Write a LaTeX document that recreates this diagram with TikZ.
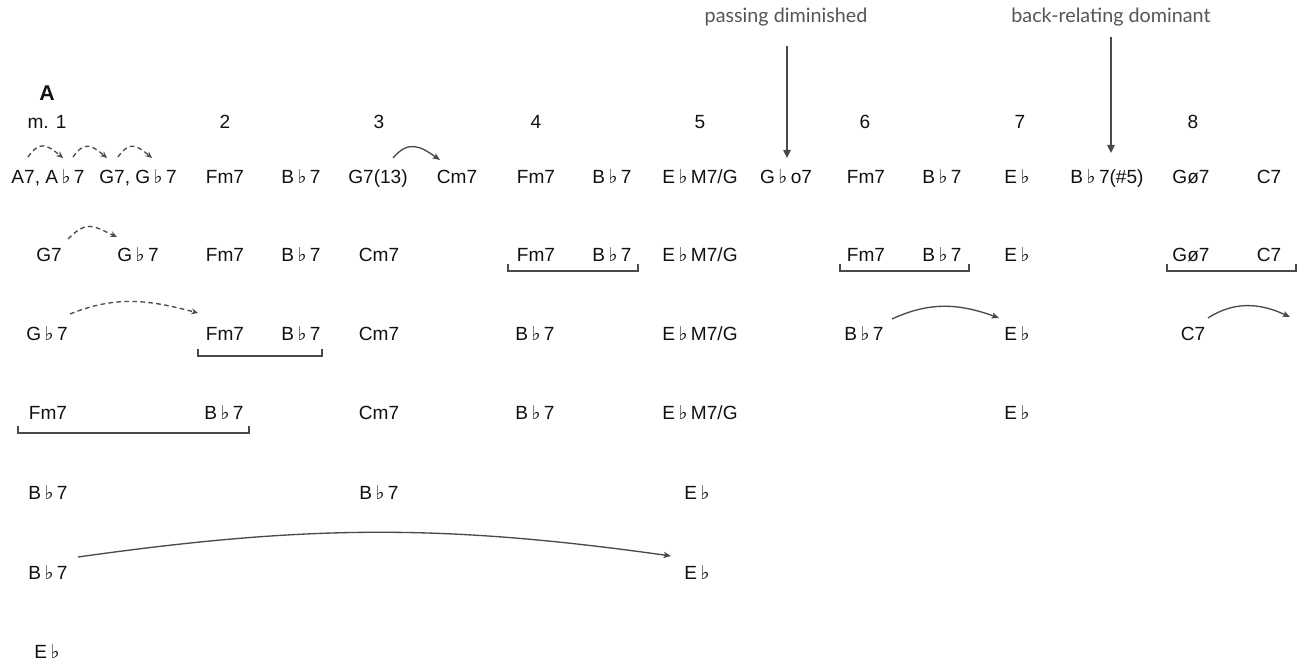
\documentclass[tikz,border=0pt]{standalone}
\usepackage{fontspec}
\setmainfont{Liberation Sans}
\newfontfamily\symf{DejaVu Sans}
\newfontfamily\notef{Lato}
\usetikzlibrary{arrows.meta}
\definecolor{ink}{HTML}{111111}
\definecolor{linec}{HTML}{4A4A4A}
\definecolor{notec}{HTML}{555555}
\newcommand{\fl}{\hspace{0.18em}{\symf\char"266D}\hspace{0.18em}}
\tikzset{
  chord/.style={anchor=base, inner sep=0pt, text=ink, font=\fontsize{14.3}{16}\selectfont},
  meas/.style={anchor=base, inner sep=0pt, text=ink, font=\fontsize{14.3}{16}\selectfont},
  note/.style={anchor=base, inner sep=0pt, text=notec, font=\notef\fontsize{14.8}{17}\selectfont},
  dasharc/.style={draw=linec, line width=1pt, dash pattern=on 3.5pt off 2.5pt, -{Stealth[length=5pt,width=4.5pt]}},
  solidarc/.style={draw=linec, line width=1pt, -{Stealth[length=5.5pt,width=4.5pt,inset=1.2pt]}},
  bracketline/.style={draw=linec, line width=2pt},
  callout/.style={draw=linec, line width=1.1pt, -{Triangle[length=6pt,width=5.5pt]}}
}
\begin{document}
\begin{tikzpicture}[x=0.75pt,y=-0.75pt]
\useasboundingbox (0,0) rectangle (1302,663);
% section and measure numbers
\node[chord, font=\bfseries\fontsize{16}{18}\selectfont] (secA) at (47,101) {A};
\node[meas] (m1) at (47,129) {m. 1};
\node[meas] (m2) at (225,129) {2};
\node[meas] (m3) at (379,129) {3};
\node[meas] (m4) at (536,129) {4};
\node[meas] (m5) at (700,129) {5};
\node[meas] (m6) at (865,129) {6};
\node[meas] (m7) at (1020,129) {7};
\node[meas] (m8) at (1193,129) {8};
% annotations
\node[note] (pd) at (786,23) {passing diminished};
\node[note] (brd) at (1111,23) {back-relating dominant};
% row 1
\node[chord] (a1) at (48,183) {A7, A\fl7};
\node[chord] (a2) at (138,183) {G7, G\fl7};
\node[chord] (a3) at (225,183) {Fm7};
\node[chord] (a4) at (301,183) {B\fl7};
\node[chord] (a5) at (378,183) {G7(13)};
\node[chord] (a6) at (457,183) {Cm7};
\node[chord] (a7) at (536,183) {Fm7};
\node[chord] (a8) at (612,183) {B\fl7};
\node[chord] (a9) at (700,183) {E\fl M7/G};
\node[chord] (a10) at (786,183) {G\fl o7};
\node[chord] (a11) at (866,183) {Fm7};
\node[chord] (a12) at (942,183) {B\fl7};
\node[chord] (a13) at (1017,183) {E\fl};
\node[chord] (a14) at (1107,183) {B\fl7(\#5)};
\node[chord] (a15) at (1191,183) {Gø7};
\node[chord] (a16) at (1269,183) {C7};
% row 2
\node[chord] (b1) at (49,261) {G7};
\node[chord] (b2) at (138,261) {G\fl7};
\node[chord] (b3) at (225,261) {Fm7};
\node[chord] (b4) at (301,261) {B\fl7};
\node[chord] (b5) at (379,261) {Cm7};
\node[chord] (b6) at (536,261) {Fm7};
\node[chord] (b7) at (612,261) {B\fl7};
\node[chord] (b8) at (700,261) {E\fl M7/G};
\node[chord] (b9) at (866,261) {Fm7};
\node[chord] (b10) at (942,261) {B\fl7};
\node[chord] (b11) at (1017,261) {E\fl};
\node[chord] (b12) at (1191,261) {Gø7};
\node[chord] (b13) at (1269,261) {C7};
% row 3
\node[chord] (c1) at (47,340) {G\fl7};
\node[chord] (c2) at (225,340) {Fm7};
\node[chord] (c3) at (301,340) {B\fl7};
\node[chord] (c4) at (379,340) {Cm7};
\node[chord] (c5) at (535,340) {B\fl7};
\node[chord] (c6) at (700,340) {E\fl M7/G};
\node[chord] (c7) at (864,340) {B\fl7};
\node[chord] (c8) at (1017,340) {E\fl};
\node[chord] (c9) at (1193,340) {C7};
% row 4
\node[chord] (d1) at (48,419) {Fm7};
\node[chord] (d2) at (224,419) {B\fl7};
\node[chord] (d3) at (379,419) {Cm7};
\node[chord] (d4) at (535,419) {B\fl7};
\node[chord] (d5) at (700,419) {E\fl M7/G};
\node[chord] (d6) at (1017,419) {E\fl};
% row 5
\node[chord] (e1) at (48,499) {B\fl7};
\node[chord] (e2) at (379,499) {B\fl7};
\node[chord] (e3) at (697,499) {E\fl};
% row 6
\node[chord] (f1) at (48,579) {B\fl7};
\node[chord] (f2) at (697,579) {E\fl};
% row 7
\node[chord] (g1) at (47,658) {E\fl};
% callout arrows
\coordinate (pdtip) at (787,158);
\coordinate (brdtip) at (1111,153);
\draw[callout] (787,46) -- (pdtip);
\draw[callout] (1111,37) -- (brdtip);
% row 1 arcs
\coordinate (s1) at (28,157); \coordinate (t1) at (63,158);
\coordinate (s2) at (73,157); \coordinate (t2) at (107,158);
\coordinate (s3) at (118,157); \coordinate (t3) at (152,158);
\draw[dasharc] (s1) to[out=55,in=140,looseness=1.5] (t1);
\draw[dasharc] (s2) to[out=55,in=140,looseness=1.5] (t2);
\draw[dasharc] (s3) to[out=55,in=140,looseness=1.5] (t3);
\coordinate (s4) at (393,158); \coordinate (t4) at (440,160);
\draw[solidarc] (s4) to[out=50,in=145,looseness=1.3] (t4);
% row 2 arc
\coordinate (s5) at (68,239); \coordinate (t5) at (117,237);
\draw[dasharc] (s5) to[out=45,in=155,looseness=1.4] (t5);
% row 3 arcs
\coordinate (s6) at (70,314); \coordinate (t6) at (198,313);
\draw[dasharc] (s6) to[out=22,in=165] (t6);
\coordinate (s7) at (892,319); \coordinate (t7) at (999,318);
\draw[solidarc] (s7) to[out=25,in=160] (t7);
\coordinate (s8) at (1208,318); \coordinate (t8) at (1290,317);
\draw[solidarc] (s8) to[out=33,in=155] (t8);
% row 6 arc
\coordinate (s9) at (78,557); \coordinate (t9) at (671,556);
\draw[solidarc] (s9) to[out=8,in=172] (t9);
% brackets
\draw[bracketline] (508,264) -- (508,271) -- (638,271) -- (638,264);
\draw[bracketline] (840,264) -- (840,271) -- (969,271) -- (969,264);
\draw[bracketline] (1167,264) -- (1167,271) -- (1296,271) -- (1296,264);
\draw[bracketline] (198,349) -- (198,356) -- (322,356) -- (322,349);
\draw[bracketline] (18,426) -- (18,433) -- (249,433) -- (249,426);
\end{tikzpicture}
\end{document}
